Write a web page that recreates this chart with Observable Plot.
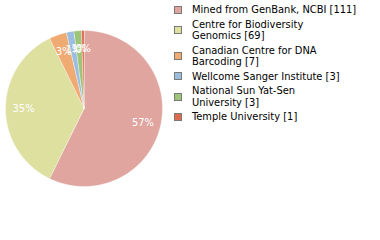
<!DOCTYPE html>
<html>
<head>
<meta charset="utf-8">
<script src="https://cdn.jsdelivr.net/npm/d3@7"></script>
<script src="https://cdn.jsdelivr.net/npm/@observablehq/plot@0.6"></script>
<style>
  html, body { margin: 0; padding: 0; background: #fff; }
  #wrap { position: relative; width: 380px; height: 240px; overflow: hidden; }
  #chart { position: absolute; left: 0; top: 0; }
  #legend { position: absolute; left: 174px; top: 4px;
    font-family: "DejaVu Sans Condensed", "DejaVu Sans", sans-serif; font-size: 11px; line-height: 11.5px; color: #000; }
  .item { display: flex; align-items: center; margin-bottom: 3px; }
  .sw { width: 8px; height: 8px; box-sizing: border-box; border: 1px solid #7a7a7a; flex: none; margin-right: 10px; }
  .lbl { white-space: pre; }
</style>
</head>
<body>
<div id="wrap"><div id="chart"></div><div id="legend"></div></div>
<script>
const categories = ["Mined from GenBank, NCBI", "Centre for Biodiversity Genomics", "Canadian Centre for DNA Barcoding", "Wellcome Sanger Institute", "National Sun Yat-Sen University", "Temple University"];
const counts = [111, 69, 7, 3, 3, 1];
const colors = ["#e0a59e", "#dde09f", "#f0ab72", "#9bbde0", "#9dc477", "#e06a4f"];
const legendLabels = ["Mined from GenBank, NCBI [111]", "Centre for Biodiversity\nGenomics [69]", "Canadian Centre for DNA\nBarcoding [7]", "Wellcome Sanger Institute [3]", "National Sun Yat-Sen\nUniversity [3]", "Temple University [1]"];

const total = d3.sum(counts);
const arcs = d3.pie().sort(null).value(d => d)(counts);

const pts = [];
arcs.forEach((a, i) => {
  const n = Math.max(2, Math.ceil((a.endAngle - a.startAngle) / (Math.PI / 180)));
  pts.push({cat: categories[i], x: 0, y: 0});
  for (let k = 0; k <= n; k++) {
    const t = a.startAngle + (a.endAngle - a.startAngle) * k / n;
    pts.push({cat: categories[i], x: Math.sin(t), y: Math.cos(t)});
  }
});
const labels = arcs.map((a, i) => {
  const m = (a.startAngle + a.endAngle) / 2;
  return {cat: categories[i], x: 0.77 * Math.sin(m), y: 0.77 * Math.cos(m), text: Math.floor(counts[i] / total * 100) + "%"};
});

const plot = Plot.plot({
  width: 380, height: 240,
  marginLeft: 5, marginRight: 218, marginTop: 30, marginBottom: 54,
  x: {domain: [-1, 1], axis: null},
  y: {domain: [-1, 1], axis: null},
  color: {domain: categories, range: colors},
  style: {fontFamily: "'DejaVu Sans Condensed', 'DejaVu Sans', sans-serif", background: "white"},
  marks: [
    Plot.line(pts, {x: "x", y: "y", z: "cat", fill: "cat", stroke: "white", strokeWidth: 0.4, curve: "linear-closed"}),
    Plot.text(labels, {x: "x", y: "y", text: "text", fill: "white", fontSize: 11})
  ]
});
document.getElementById("chart").appendChild(plot);

const legend = d3.select("#legend");
categories.forEach((c, i) => {
  const it = legend.append("div").attr("class", "item");
  it.append("div").attr("class", "sw").style("background", colors[i]);
  it.append("div").attr("class", "lbl").text(legendLabels[i]);
});
</script>
</body>
</html>
